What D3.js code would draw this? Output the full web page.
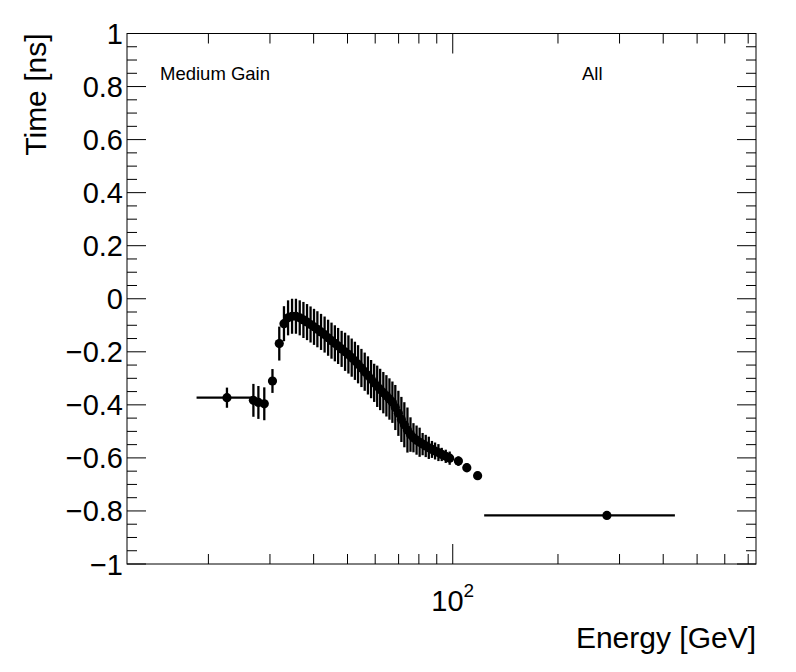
<!DOCTYPE html>
<html>
<head>
<meta charset="utf-8">
<script src="https://cdn.jsdelivr.net/npm/d3@7"></script>
<style>
  body { margin: 0; background: #fff; }
  text { font-family: "Liberation Sans", Arial, Helvetica, sans-serif; fill: #000; }
</style>
</head>
<body>
<div id="chart"></div>
<script>
// energy bin centres [GeV]
const energy = [
  22.6, 26.9, 27.8, 28.9, 30.5, 31.9,
  32.9, 33.8, 34.7, 35.6, 36.5, 37.4, 38.3, 39.2, 40.1, 41.0,
  42.0, 43.0, 44.0, 45.0, 46.0, 47.0, 48.1, 49.2, 50.3, 51.4,
  52.5, 53.6, 54.8, 56.0, 57.2, 58.4, 59.6, 60.8, 62.0, 63.3,
  64.6, 65.9, 67.2, 68.5, 69.9, 71.3, 72.7, 74.2, 75.7, 77.2,
  78.8, 80.4, 82.0, 83.7, 85.4, 87.2, 89.0, 91.0, 93.0, 95.5,
  98.0, 103.8, 109.7, 117.8, 276
];

// mean time [ns]
const time = [
  -0.373, -0.383, -0.391, -0.396, -0.310, -0.169,
  -0.094, -0.072, -0.066, -0.066, -0.072, -0.080, -0.088, -0.097, -0.106, -0.115,
  -0.125, -0.135, -0.147, -0.158, -0.168, -0.178, -0.189, -0.200, -0.210, -0.222,
  -0.234, -0.247, -0.261, -0.275, -0.289, -0.303, -0.317, -0.330, -0.342, -0.354,
  -0.366, -0.378, -0.390, -0.410, -0.432, -0.455, -0.475, -0.495, -0.512, -0.524,
  -0.533, -0.541, -0.548, -0.555, -0.562, -0.568, -0.574, -0.580, -0.587, -0.594,
  -0.601, -0.612, -0.637, -0.667, -0.817
];

const timeErr = [
  0.038, 0.062, 0.062, 0.062, 0.045, 0.064,
  0.066, 0.066, 0.066, 0.066, 0.066, 0.068, 0.068, 0.068, 0.068, 0.068,
  0.068, 0.068, 0.068, 0.068, 0.068, 0.068, 0.068, 0.072, 0.072, 0.072,
  0.072, 0.072, 0.072, 0.072, 0.072, 0.072, 0.072, 0.078, 0.078, 0.078,
  0.078, 0.078, 0.078, 0.085, 0.085, 0.085, 0.085, 0.085, 0.065, 0.055,
  0.055, 0.055, 0.042, 0.042, 0.042, 0.032, 0.032, 0.032, 0.025, 0.025,
  0.025, 0.018, 0.017, 0.015, 0.008
];

// wide bins only (others are narrower than the marker)
const energyLow  = { 0: 18.5, 60: 123 };
const energyHigh = { 0: 26.9, 60: 432 };

const yMajorTicks = [-1, -0.8, -0.6, -0.4, -0.2, 0, 0.2, 0.4, 0.6, 0.8, 1];
const xMinorTicks = [20, 30, 40, 50, 60, 70, 80, 90, 200, 300, 400, 500, 600, 700];
const xMajorTicks = [100];

document.addEventListener("DOMContentLoaded", function() {
    const svg = d3.select("#chart")
                  .append("svg")
                  .attr("width", 796)
                  .attr("height", 672);
    drawPlot(svg);
});

function fmt(v) {
    const r = Math.round(v * 10) / 10;
    return (r < 0 ? "\u2212" : "") + Math.abs(r);
}

function drawPlot(svg) {
    const left = 127, right = 756, top = 33.5, bottom = 564;

    const x = d3.scaleLog().domain([11.7, 737]).range([left, right]);
    const y = d3.scaleLinear().domain([-1, 1]).range([bottom, top]);

    const data = energy.map((e, i) => ({
        e: e, t: time[i], err: timeErr[i],
        lo: energyLow[i], hi: energyHigh[i]
    }));

    // frame
    svg.append("rect")
       .attr("x", left).attr("y", top)
       .attr("width", right - left).attr("height", bottom - top)
       .attr("fill", "none").attr("stroke", "#000").attr("stroke-width", 1);

    const ticks = svg.append("g").attr("stroke", "#000").attr("stroke-width", 1);

    // y ticks, left and right
    const yMinor = d3.range(-1, 1.0001, 0.05).filter(v => !yMajorTicks.some(m => Math.abs(m - v) < 1e-6));
    yMajorTicks.forEach(v => {
        ticks.append("line").attr("x1", left).attr("x2", left + 19).attr("y1", y(v)).attr("y2", y(v));
        ticks.append("line").attr("x1", right).attr("x2", right - 19).attr("y1", y(v)).attr("y2", y(v));
    });
    yMinor.forEach(v => {
        ticks.append("line").attr("x1", left).attr("x2", left + 10).attr("y1", y(v)).attr("y2", y(v));
        ticks.append("line").attr("x1", right).attr("x2", right - 10).attr("y1", y(v)).attr("y2", y(v));
    });

    // x ticks, bottom and top
    xMajorTicks.forEach(v => {
        ticks.append("line").attr("x1", x(v)).attr("x2", x(v)).attr("y1", bottom).attr("y2", bottom - 20);
        ticks.append("line").attr("x1", x(v)).attr("x2", x(v)).attr("y1", top).attr("y2", top + 20);
    });
    xMinorTicks.forEach(v => {
        ticks.append("line").attr("x1", x(v)).attr("x2", x(v)).attr("y1", bottom).attr("y2", bottom - 10);
        ticks.append("line").attr("x1", x(v)).attr("x2", x(v)).attr("y1", top).attr("y2", top + 10);
    });

    // y labels
    svg.append("g").selectAll("text")
       .data(yMajorTicks)
       .join("text")
       .attr("x", 123)
       .attr("y", d => y(d) + 10.5)
       .attr("text-anchor", "end")
       .attr("font-size", 29)
       .text(d => fmt(d));

    // x label 10^2
    const xl = svg.append("text")
       .attr("x", x(100))
       .attr("y", 611)
       .attr("text-anchor", "middle")
       .attr("font-size", 29);
    xl.append("tspan").text("10");
    xl.append("tspan").attr("dy", -14).attr("font-size", 19).text("2");

    // axis titles
    svg.append("text")
       .attr("x", right).attr("y", 648)
       .attr("text-anchor", "end")
       .attr("font-size", 30)
       .text("Energy [GeV]");

    svg.append("text")
       .attr("transform", `translate(46,${top}) rotate(-90)`)
       .attr("text-anchor", "end")
       .attr("font-size", 30)
       .text("Time [ns]");

    // annotations
    svg.append("text").attr("x", 160).attr("y", 80).attr("font-size", 18.5).text("Medium Gain");
    svg.append("text").attr("x", 582).attr("y", 80).attr("font-size", 18.5).text("All");

    // error bars
    const bars = svg.append("g").attr("stroke", "#000").attr("stroke-width", 2.3);
    bars.selectAll("line.v")
        .data(data)
        .join("line")
        .attr("class", "v")
        .attr("x1", d => x(d.e)).attr("x2", d => x(d.e))
        .attr("y1", d => y(d.t - d.err)).attr("y2", d => y(d.t + d.err));
    bars.selectAll("line.h")
        .data(data.filter(d => d.lo !== undefined))
        .join("line")
        .attr("class", "h")
        .attr("x1", d => x(d.lo)).attr("x2", d => x(d.hi))
        .attr("y1", d => y(d.t)).attr("y2", d => y(d.t));

    // markers
    svg.append("g").selectAll("circle")
       .data(data)
       .join("circle")
       .attr("cx", d => x(d.e))
       .attr("cy", d => y(d.t))
       .attr("r", 4.6)
       .attr("fill", "#000");
}
</script>
</body>
</html>
